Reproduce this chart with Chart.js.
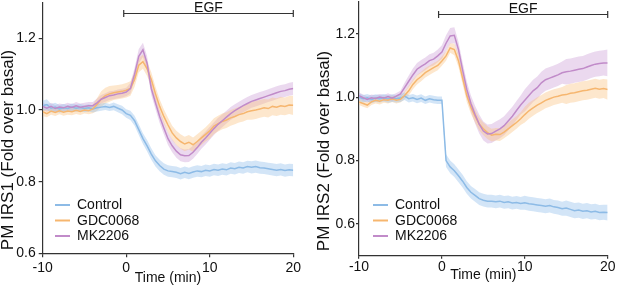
<!DOCTYPE html>
<html>
<head>
<meta charset="utf-8">
<script src="https://cdn.jsdelivr.net/npm/chart.js@4.4.1/dist/chart.umd.min.js"></script>
<style>
  body { margin: 0; background: #fff; }
  .panel { position: absolute; top: 0; }
</style>
</head>
<body>
<div class="panel" style="left:0"><canvas id="irs1" width="310" height="287"></canvas></div>
<div class="panel" style="left:310px"><canvas id="irs2" width="307" height="287"></canvas></div>
<script>
// time after EGF (min), shared by both panels
const time = [-10,-9.5,-9,-8.5,-8,-7.5,-7,-6.5,-6,-5.5,-5,-4.5,-4,-3.5,-3,-2.5,-2,-1.5,-1,-0.5,
  0,0.5,1,1.5,2,2.5,3,3.5,4,4.5,5,5.5,6,6.5,7,7.5,8,8.5,9,9.5,
  10,10.5,11,11.5,12,12.5,13,13.5,14,14.5,15,15.5,16,16.5,17,17.5,18,18.5,19,19.5,20];

const seriesNames = ['Control', 'GDC0068', 'MK2206'];
const xTicks = [-10, 0, 10, 20];
const yTicks = [0.6, 0.8, 1.0, 1.2];

// PM IRS1 means
const ctrlIRS1 = [1.012,1.015,1.005,1.008,1.003,1.006,1.004,1.008,1.005,1.007,1.004,1.006,1.003,1.006,1.008,1.010,1.007,1.010,1.005,1.000,
  0.990,0.985,0.970,0.945,0.920,0.900,0.877,0.858,0.845,0.835,0.830,0.828,0.826,0.822,0.826,0.823,0.827,0.830,0.828,0.832,
  0.830,0.834,0.832,0.835,0.833,0.838,0.836,0.840,0.838,0.842,0.840,0.842,0.839,0.838,0.836,0.834,0.832,0.834,0.831,0.833,0.832];
const gdcIRS1 = [0.995,0.990,0.997,0.993,0.998,0.994,0.997,0.995,0.999,0.996,1.000,0.998,1.003,1.015,1.030,1.040,1.045,1.048,1.050,1.052,
  1.055,1.060,1.085,1.125,1.135,1.115,1.085,1.045,1.010,0.982,0.958,0.936,0.922,0.912,0.905,0.910,0.903,0.912,0.922,0.932,
  0.942,0.955,0.962,0.968,0.972,0.978,0.982,0.987,0.990,0.995,0.998,1.000,1.003,1.006,1.004,1.010,1.008,1.012,1.010,1.014,1.013];
const mkIRS1 = [1.010,1.005,1.010,1.004,1.008,1.006,1.010,1.007,1.012,1.008,1.010,1.012,1.012,1.020,1.030,1.035,1.040,1.042,1.045,1.047,
  1.050,1.060,1.100,1.150,1.168,1.130,1.060,1.020,0.982,0.950,0.920,0.900,0.885,0.875,0.872,0.873,0.882,0.895,0.910,0.922,
  0.935,0.948,0.960,0.970,0.980,0.990,0.998,1.005,1.012,1.018,1.024,1.028,1.032,1.036,1.040,1.044,1.048,1.052,1.054,1.058,1.060];

// PM IRS1 sem
const ctrlIRS1Sem = [0.014,0.015,0.012,0.012,0.011,0.011,0.010,0.010,0.010,0.010,0.010,0.010,0.010,0.010,0.010,0.010,0.010,0.011,0.011,0.012,
  0.012,0.013,0.014,0.015,0.015,0.016,0.016,0.016,0.016,0.016,0.016,0.016,0.016,0.016,0.016,0.016,0.016,0.016,0.016,0.016,
  0.016,0.016,0.016,0.016,0.016,0.016,0.016,0.016,0.016,0.016,0.017,0.017,0.017,0.017,0.017,0.017,0.017,0.017,0.017,0.017,0.017];
const gdcIRS1Sem = [0.012,0.010,0.010,0.010,0.010,0.010,0.010,0.010,0.010,0.010,0.010,0.010,0.012,0.018,0.022,0.022,0.022,0.020,0.020,0.020,
  0.020,0.020,0.020,0.020,0.020,0.020,0.020,0.020,0.020,0.020,0.020,0.020,0.020,0.020,0.020,0.020,0.020,0.020,0.020,0.020,
  0.022,0.022,0.022,0.022,0.022,0.022,0.022,0.022,0.022,0.022,0.025,0.025,0.025,0.025,0.025,0.025,0.025,0.025,0.025,0.025,0.027];
const mkIRS1Sem = [0.010,0.010,0.010,0.010,0.010,0.010,0.010,0.010,0.010,0.010,0.010,0.010,0.010,0.012,0.012,0.012,0.012,0.012,0.012,0.012,
  0.012,0.015,0.018,0.020,0.020,0.020,0.018,0.018,0.018,0.018,0.018,0.018,0.018,0.018,0.018,0.018,0.018,0.018,0.018,0.018,
  0.018,0.018,0.018,0.018,0.018,0.018,0.018,0.018,0.018,0.018,0.018,0.018,0.018,0.018,0.018,0.018,0.018,0.018,0.018,0.018,0.018];

// PM IRS2 means
const ctrlIRS2 = [1.000,0.995,0.998,0.993,0.997,0.995,0.998,0.994,0.997,0.995,0.997,1.003,0.995,0.998,0.993,0.997,0.990,0.995,0.992,0.990,
  0.990,0.800,0.780,0.768,0.752,0.735,0.715,0.700,0.690,0.680,0.675,0.672,0.672,0.670,0.672,0.668,0.670,0.666,0.668,0.665,
  0.667,0.664,0.662,0.660,0.658,0.656,0.658,0.654,0.652,0.648,0.650,0.646,0.642,0.644,0.640,0.642,0.638,0.640,0.636,0.637,0.636];
const gdcIRS2 = [0.985,0.980,0.975,0.985,0.990,0.987,0.992,0.990,0.995,0.990,0.993,1.005,1.020,1.040,1.055,1.065,1.077,1.085,1.093,1.100,
  1.114,1.130,1.155,1.150,1.115,1.060,1.005,0.968,0.940,0.915,0.900,0.888,0.880,0.883,0.882,0.890,0.900,0.910,0.920,0.932,
  0.945,0.957,0.966,0.975,0.982,0.990,0.995,1.000,1.003,1.007,1.008,1.012,1.014,1.017,1.020,1.022,1.025,1.028,1.025,1.027,1.024];
const mkIRS2 = [1.005,0.998,0.993,0.998,0.996,1.000,0.997,1.002,0.997,1.003,1.010,1.030,1.050,1.070,1.088,1.097,1.105,1.115,1.120,1.130,
  1.142,1.170,1.193,1.195,1.150,1.085,1.025,0.980,0.945,0.915,0.893,0.884,0.885,0.893,0.900,0.910,0.925,0.940,0.958,0.975,
  0.990,1.005,1.020,1.030,1.045,1.055,1.060,1.065,1.070,1.077,1.080,1.082,1.085,1.088,1.090,1.095,1.100,1.104,1.106,1.108,1.108];

// PM IRS2 sem
const ctrlIRS2Sem = [0.012,0.012,0.012,0.012,0.012,0.012,0.012,0.012,0.012,0.012,0.012,0.012,0.012,0.012,0.012,0.012,0.012,0.012,0.012,0.012,
  0.012,0.020,0.020,0.020,0.020,0.020,0.020,0.020,0.020,0.020,0.020,0.020,0.020,0.020,0.020,0.020,0.020,0.020,0.020,0.020,
  0.022,0.022,0.022,0.022,0.022,0.022,0.022,0.022,0.022,0.022,0.024,0.024,0.024,0.024,0.024,0.024,0.024,0.024,0.024,0.024,0.025];
const gdcIRS2Sem = [0.010,0.010,0.010,0.010,0.010,0.010,0.010,0.010,0.010,0.010,0.010,0.012,0.015,0.015,0.015,0.015,0.015,0.015,0.015,0.015,
  0.015,0.015,0.015,0.018,0.020,0.020,0.020,0.020,0.020,0.020,0.020,0.020,0.020,0.020,0.020,0.020,0.020,0.020,0.020,0.020,
  0.025,0.025,0.025,0.025,0.025,0.025,0.025,0.025,0.025,0.025,0.030,0.030,0.030,0.030,0.030,0.030,0.030,0.030,0.030,0.030,0.032];
const mkIRS2Sem = [0.010,0.010,0.010,0.010,0.010,0.010,0.010,0.010,0.010,0.010,0.010,0.015,0.018,0.020,0.020,0.020,0.020,0.020,0.020,0.020,
  0.022,0.025,0.025,0.025,0.025,0.025,0.025,0.025,0.028,0.030,0.030,0.030,0.030,0.030,0.030,0.030,0.030,0.030,0.030,0.030,
  0.035,0.035,0.035,0.035,0.035,0.035,0.035,0.035,0.035,0.035,0.040,0.040,0.040,0.040,0.040,0.040,0.040,0.040,0.040,0.040,0.042];

const lineColors = ['#8dbbe6', '#f6b66f', '#c18bc9'];
const bandColors = ['rgba(150,192,235,0.42)', 'rgba(250,196,130,0.40)', 'rgba(205,160,215,0.40)'];
const FONT = '"Liberation Sans", Arial, Helvetica, sans-serif';
Chart.defaults.font.family = FONT;

function pts(vals, off, sign) {
  return time.map((t, i) => ({ x: t, y: vals[i] + (off ? sign * off[i] : 0) }));
}

function buildDatasets(means, sems) {
  const lines = [], bands = [];
  // MK2206 drawn on top, control underneath
  [2, 1, 0].forEach(k => {
    lines.push({ data: pts(means[k]), borderColor: lineColors[k], borderWidth: 1.5,
      pointRadius: 0, fill: false, tension: 0 });
  });
  [0, 1, 2].forEach(k => {
    bands.push({ data: pts(means[k], sems[k], 1), borderColor: 'rgba(0,0,0,0)', borderWidth: 0,
      pointRadius: 0, fill: false });
    bands.push({ data: pts(means[k], sems[k], -1), borderColor: 'rgba(0,0,0,0)', borderWidth: 0,
      pointRadius: 0, fill: '-1', backgroundColor: bandColors[k] });
  });
  return lines.concat(bands);
}

const decor = {
  id: 'decor',
  afterDraw(chart, args, o) {
    const ctx = chart.ctx, xs = chart.scales.x, ys = chart.scales.y, area = chart.chartArea;
    ctx.save();
    // EGF bar
    const x0 = xs.getPixelForValue(o.egf[0]), x1 = xs.getPixelForValue(o.egf[1]);
    const yb = Math.round(ys.getPixelForValue(o.egfLevel)) + 0.5;
    ctx.strokeStyle = '#333'; ctx.lineWidth = 1.2;
    ctx.beginPath();
    ctx.moveTo(x0, yb); ctx.lineTo(x1, yb);
    ctx.moveTo(x0, yb - 3.5); ctx.lineTo(x0, yb + 3.5);
    ctx.moveTo(x1, yb - 3.5); ctx.lineTo(x1, yb + 3.5);
    ctx.stroke();
    ctx.fillStyle = '#111';
    ctx.font = '14px ' + FONT;
    ctx.textAlign = 'center'; ctx.textBaseline = 'alphabetic';
    ctx.fillText('EGF', (x0 + x1) / 2, yb - 2);
    // axis titles
    ctx.fillText('Time (min)', (area.left + area.right) / 2, o.xTitleY);
    ctx.save();
    ctx.translate(o.yTitleX, o.yTitleY);
    ctx.rotate(-Math.PI / 2);
    ctx.font = '17px ' + FONT;
    ctx.textBaseline = 'middle';
    ctx.fillText(o.yTitle, 0, 0);
    ctx.restore();
    // legend
    ctx.font = '14px ' + FONT;
    ctx.textAlign = 'left'; ctx.textBaseline = 'middle';
    seriesNames.forEach((name, k) => {
      const y = o.legY + k * 15.5;
      ctx.strokeStyle = lineColors[k]; ctx.lineWidth = 2;
      ctx.beginPath(); ctx.moveTo(o.legX, y); ctx.lineTo(o.legX + 15, y); ctx.stroke();
      ctx.fillStyle = '#111';
      ctx.fillText(name, o.legX + 22, y + 0.5);
    });
    ctx.restore();
  }
};

function makePanel(id, means, sems, p) {
  new Chart(document.getElementById(id), {
    type: 'line',
    data: { datasets: buildDatasets(means, sems) },
    plugins: [decor],
    options: {
      responsive: false,
      animation: false,
      events: [],
      layout: { padding: { top: p.top, right: p.right, left: 0, bottom: 0 } },
      plugins: {
        legend: { display: false },
        tooltip: { enabled: false },
        filler: { drawTime: 'beforeDatasetsDraw' },
        decor: p.decor
      },
      scales: {
        x: {
          type: 'linear', min: -10, max: 20,
          afterBuildTicks: s => { s.ticks = xTicks.map(v => ({ value: v })); },
          afterFit: s => { s.height = p.xHeight; s.paddingLeft = 0; s.paddingRight = 0; },
          ticks: { autoSkip: false, maxRotation: 0, color: '#111', padding: p.xPad,
            font: { size: 14 }, callback: v => String(v) },
          grid: { drawOnChartArea: false, tickLength: p.tick, color: '#333', lineWidth: 1.2 },
          border: { color: '#333', width: 1.2 }
        },
        y: {
          min: p.yMin, max: 1.3,
          afterBuildTicks: s => { s.ticks = yTicks.map(v => ({ value: v })); },
          afterFit: s => { s.width = p.yWidth; s.paddingTop = 0; s.paddingBottom = 0; },
          ticks: { color: '#111', padding: p.yPad, font: { size: 14 },
            callback: v => v.toFixed(1) },
          grid: { drawOnChartArea: false, tickLength: p.tick, color: '#333', lineWidth: 1.2 },
          border: { color: '#333', width: 1.2 }
        }
      }
    }
  });
}

makePanel('irs1', [ctrlIRS1, gdcIRS1, mkIRS1], [ctrlIRS1Sem, gdcIRS1Sem, mkIRS1Sem], {
  top: 2.5, right: 16.7, yWidth: 42.7, xHeight: 33.7, yMin: 0.6, xPad: 2, yPad: 3, tick: 4,
  decor: { egf: [-0.3, 20], egfLevel: 1.27, xTitleY: 282, yTitleX: 8, yTitleY: 150,
    yTitle: 'PM IRS1 (Fold over basal)', legX: 55, legY: 205 }
});

makePanel('irs2', [ctrlIRS2, gdcIRS2, mkIRS2], [ctrlIRS2Sem, gdcIRS2Sem, mkIRS2Sem], {
  top: 2, right: 9.3, yWidth: 49, xHeight: 31.3, yMin: 0.5, xPad: 0, yPad: 1, tick: 3,
  decor: { egf: [-0.4, 20], egfLevel: 1.262, xTitleY: 279, yTitleX: 14, yTitleY: 151,
    yTitle: 'PM IRS2 (Fold over basal)', legX: 63, legY: 205 }
});
</script>
</body>
</html>
